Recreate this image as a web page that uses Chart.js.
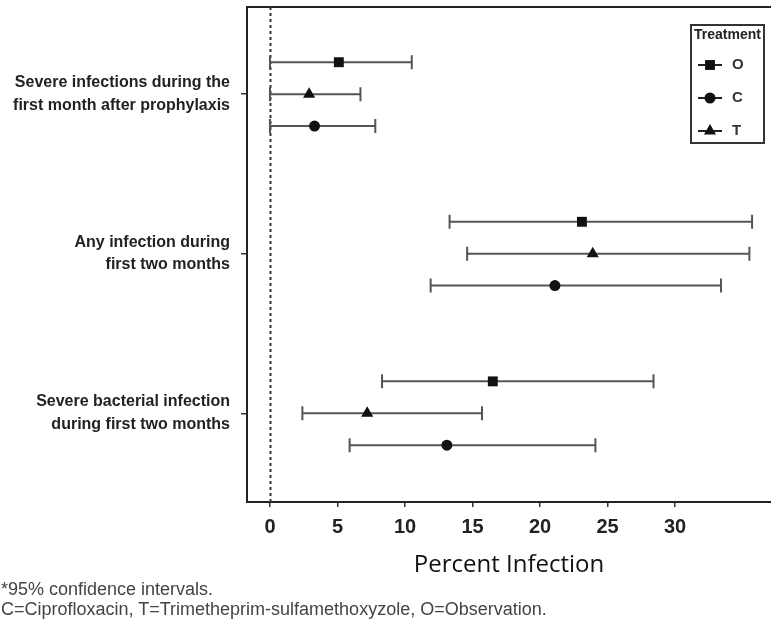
<!DOCTYPE html>
<html>
<head>
<meta charset="utf-8">
<script src="https://cdn.jsdelivr.net/npm/chart.js@4.4.1/dist/chart.umd.min.js"></script>
<style>
  body { margin: 0; background: #fff; overflow: hidden; }
  #wrap { position: relative; width: 771px; height: 637px; overflow: hidden; }
  .note { position: absolute; left: 1px; font: 18px "Liberation Sans", Arial, sans-serif; color: #444; white-space: nowrap; }
</style>
</head>
<body>
<div id="wrap">
  <canvas id="forestChart" width="778" height="637"></canvas>
  <div class="note" style="top:579px">*95% confidence intervals.</div>
  <div class="note" style="top:599px">C=Ciprofloxacin, T=Trimetheprim-sulfamethoxyzole, O=Observation.</div>
</div>
<script>
// outcome groups (y axis labels, top to bottom)
const groupLabels = [
    ['Severe infections during the', 'first month after prophylaxis'],
    ['Any infection during', 'first two months'],
    ['Severe bacterial infection', 'during first two months']
];
const treatments = ['O', 'C', 'T'];

// percent infection, point estimate and 95% CI per group
const estO = [5.1, 23.1, 16.5];
const lowO = [0, 13.3, 8.3];
const highO = [10.5, 35.7, 28.4];

const estC = [3.3, 21.1, 13.1];
const lowC = [0, 11.9, 5.9];
const highC = [7.8, 33.4, 24.1];

const estT = [2.9, 23.9, 7.2];
const lowT = [0, 14.6, 2.4];
const highT = [6.7, 35.5, 15.7];

const xTicks = [0, 5, 10, 15, 20, 25, 30];

// row layout inside a group: O on top, T middle, C bottom
const rowOffset = { O: -1, T: 0, C: 1 };
const groupStep = 5;
const markerStyle = {
    O: { pointStyle: 'rect', radius: 7 },
    C: { pointStyle: 'circle', radius: 5.5 },
    T: { pointStyle: 'triangle', radius: 7 }
};
const series = {
    O: { est: estO, low: lowO, high: highO },
    C: { est: estC, low: lowC, high: highC },
    T: { est: estT, low: lowT, high: highT }
};

const datasets = treatments.map(t => ({
    label: t,
    data: series[t].est.map((v, i) => ({
        x: v,
        y: i * groupStep + rowOffset[t],
        low: series[t].low[i],
        high: series[t].high[i]
    })),
    pointStyle: markerStyle[t].pointStyle,
    pointRadius: markerStyle[t].radius,
    pointBackgroundColor: '#111',
    pointBorderWidth: 0,
    showLine: false
}));

const noEdgePadding = s => {
    s.paddingLeft = 0;
    s.paddingRight = 0;
    s.paddingTop = 0;
    s.paddingBottom = 0;
};

// whiskers + dotted zero line, drawn under the markers
const errorBars = {
    id: 'errorBars',
    beforeDatasetsDraw(chart) {
        const { ctx, chartArea, scales: { x, y } } = chart;
        ctx.save();
        ctx.strokeStyle = '#333';
        ctx.lineWidth = 2;
        ctx.setLineDash([3, 3]);
        const x0 = Math.round(x.getPixelForValue(0)) + 0.5;
        ctx.beginPath();
        ctx.moveTo(x0, chartArea.top);
        ctx.lineTo(x0, chartArea.bottom);
        ctx.stroke();
        ctx.setLineDash([]);

        ctx.strokeStyle = '#555';
        ctx.lineWidth = 2;
        chart.data.datasets.forEach(ds => {
            ds.data.forEach(p => {
                const py = y.getPixelForValue(p.y);
                const xl = x.getPixelForValue(p.low);
                const xh = x.getPixelForValue(p.high);
                ctx.beginPath();
                ctx.moveTo(xl, py);
                ctx.lineTo(xh, py);
                ctx.moveTo(xl, py - 7);
                ctx.lineTo(xl, py + 7);
                ctx.moveTo(xh, py - 7);
                ctx.lineTo(xh, py + 7);
                ctx.stroke();
            });
        });
        ctx.restore();
    }
};

// boxed legend in the top right corner
const boxLegend = {
    id: 'boxLegend',
    afterDraw(chart) {
        const { ctx, chartArea } = chart;
        const w = 73, h = 118;
        const left = 691;
        const top = chartArea.top + 18;
        ctx.save();
        ctx.strokeStyle = '#333';
        ctx.lineWidth = 2;
        ctx.strokeRect(left, top, w, h);
        ctx.fillStyle = '#222';
        ctx.font = 'bold 14px "Liberation Sans", Arial, sans-serif';
        ctx.textAlign = 'center';
        ctx.textBaseline = 'middle';
        ctx.fillText('Treatment', left + w / 2, top + 10);
        treatments.forEach((t, i) => {
            const cy = top + 40 + i * 33;
            const cx = left + 19;
            ctx.strokeStyle = '#222';
            ctx.beginPath();
            ctx.moveTo(cx - 12, cy);
            ctx.lineTo(cx + 12, cy);
            ctx.stroke();
            ctx.fillStyle = '#111';
            Chart.helpers.drawPoint(ctx, {
                pointStyle: markerStyle[t].pointStyle,
                radius: markerStyle[t].radius,
                borderWidth: 0
            }, cx, cy);
            ctx.fillStyle = '#333';
            ctx.font = 'bold 15px "Liberation Sans", Arial, sans-serif';
            ctx.textAlign = 'left';
            ctx.fillText(t, left + 41, cy);
        });
        ctx.restore();
    }
};

new Chart(document.getElementById('forestChart'), {
    type: 'scatter',
    data: { datasets: datasets },
    options: {
        responsive: false,
        animation: false,
        layout: { padding: { top: 6, right: 0, bottom: 60, left: 0 } },
        plugins: {
            legend: { display: false },
            tooltip: { enabled: false }
        },
        scales: {
            x: {
                type: 'linear',
                position: 'bottom',
                min: -1.7,
                max: 37.1,
                afterBuildTicks: s => { s.ticks = xTicks.map(v => ({ value: v })); },
                afterFit: s => { s.height = 75; noEdgePadding(s); },
                grid: { drawOnChartArea: false, drawTicks: true, tickLength: 5, color: '#333', lineWidth: 1.5 },
                border: { display: true, color: '#222', width: 2 },
                ticks: {
                    color: '#222',
                    padding: 8,
                    maxRotation: 0,
                    font: { family: '"Liberation Sans", Arial, sans-serif', size: 20, weight: 'bold' }
                },
                title: {
                    display: true,
                    text: 'Percent Infection',
                    color: '#111',
                    padding: 0,
                    font: { family: '"Open Sans", sans-serif', size: 24, lineHeight: 1.0 }
                }
            },
            xTop: {
                type: 'linear',
                position: 'top',
                min: -1.7,
                max: 37.1,
                afterFit: s => { s.height = 0; noEdgePadding(s); },
                grid: { display: false },
                ticks: { display: false },
                border: { display: true, color: '#222', width: 2 }
            },
            y: {
                type: 'linear',
                reverse: true,
                min: -2.73,
                max: 12.78,
                afterBuildTicks: s => { s.ticks = groupLabels.map((g, i) => ({ value: i * groupStep })); },
                afterFit: s => { s.width = 247; noEdgePadding(s); },
                grid: { drawOnChartArea: false, drawTicks: true, tickLength: 6, color: '#333', lineWidth: 1.5 },
                border: { display: true, color: '#222', width: 2 },
                ticks: {
                    color: '#222',
                    padding: 11,
                    callback: (value, index) => groupLabels[index],
                    font: { family: '"Liberation Sans", Arial, sans-serif', size: 16, weight: 'bold', lineHeight: 1.4 }
                }
            }
        }
    },
    plugins: [errorBars, boxLegend]
});
</script>
</body>
</html>
